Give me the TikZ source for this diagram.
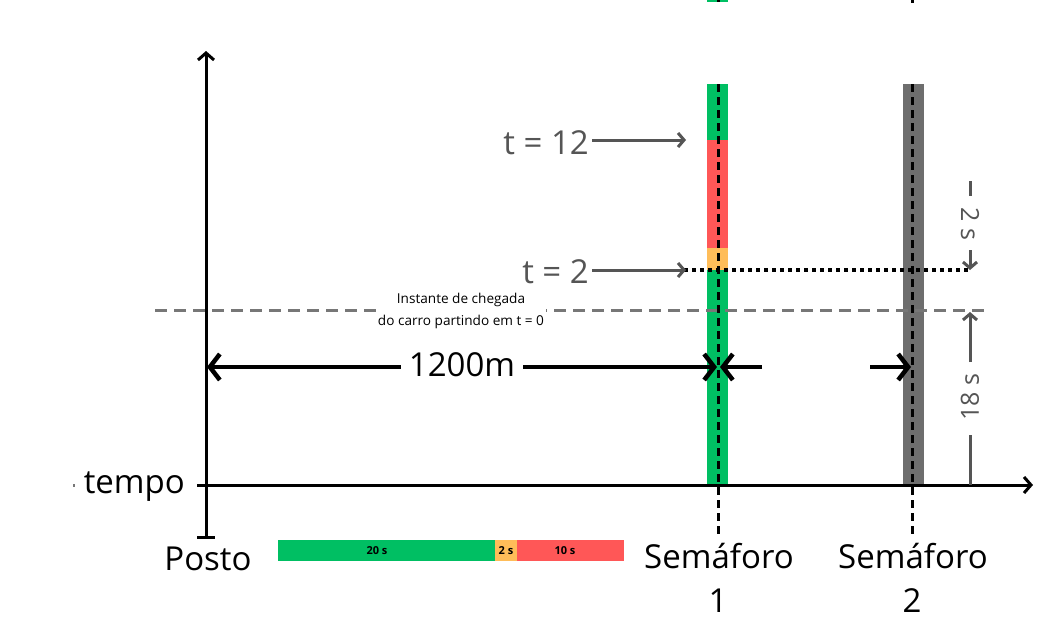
\documentclass[tikz,border=0pt]{standalone}
\usepackage{fontspec}
\setmainfont{Open Sans}
\usetikzlibrary{arrows.meta}
\definecolor{sgreen}{HTML}{00BF63}
\definecolor{sred}{HTML}{FF5757}
\definecolor{sorange}{HTML}{FFBD59}
\definecolor{sgray}{HTML}{6E6E6E}
\definecolor{dgray}{HTML}{555555}
\definecolor{lgray}{HTML}{777777}
\tikzset{
  big/.style={font=\fontsize{33}{36}\selectfont, inner sep=1pt},
  tlabel/.style={font=\fontsize{33}{36}\selectfont, text=dgray, inner sep=1pt},
  small/.style={font=\fontsize{13.6}{22}\selectfont, align=center, fill=white, inner sep=2pt},
  barlabel/.style={font=\fontsize{11}{12}\selectfont\bfseries, inner sep=0pt},
  dimlabel/.style={font=\fontsize{25}{28}\selectfont, text=dgray, inner sep=1pt},
  axis/.style={line width=3pt, -{Straight Barb[length=7pt,width=16pt,line width=3pt]}},
  dimarrow/.style={line width=4pt, -{Straight Barb[length=10pt,width=26pt,line width=4.5pt]}},
  grayarrow/.style={draw=dgray, line width=3pt, -{Straight Barb[length=6pt,width=14pt,line width=3pt]}},
  vdash/.style={draw=black, line width=3pt, dash pattern=on 8pt off 5pt},
  hdash/.style={draw=lgray, line width=3pt, dash pattern=on 12pt off 7pt},
  dotline/.style={draw=black, line width=3.5pt, dash pattern=on 3.5pt off 4.5pt},
}
\begin{document}
\begin{tikzpicture}[x=1pt,y=-1pt]
\useasboundingbox[fill=white] (0,0) rectangle (1050,632);

% top clipped remnants
\fill[sgreen] (707,0) rectangle (728,2);
\fill[black] (716.5,0) rectangle (719.5,2);
\fill[black] (910.5,0) rectangle (913.5,3);
\fill[lgray] (73,484) rectangle (75,487);

% semaphore 1 bar
\fill[sgreen] (707,84) rectangle (728,140);
\fill[sred] (707,140) rectangle (728,248);
\fill[sorange] (707,248) rectangle (728,270);
\fill[sgreen] (707,270) rectangle (728,485);
% semaphore 2 bar
\fill[sgray] (903,84) rectangle (924,485);

% coordinates
\coordinate (s1top) at (718,84);
\coordinate (s1bot) at (718,538);
\coordinate (s2top) at (912,84);
\coordinate (s2bot) at (912,538);

% arrival line
\coordinate (arrL) at (155,310);
\coordinate (arrR) at (988,310);
\draw[hdash] (arrL) -- (arrR);
\node[small] (instante) at (461,311) {Instante de chegada\\do carro partindo em t = 0};

% dotted line at t=2
\coordinate (dotL) at (684,270);
\coordinate (dotR) at (970,270);
\draw[dotline] (dotL) -- (dotR);

% dashed verticals
\draw[vdash] (s1top) -- (s1bot);
\draw[vdash] (s2top) -- (s2bot);

% axes
\coordinate (vbot) at (206,537);
\coordinate (vtop) at (206,51);
\coordinate (hleft) at (197,485);
\coordinate (hright) at (1033,485);
\draw[axis] (vbot) -- (vtop);
\draw[line width=3pt] (197,537) -- (215,537);
\draw[axis] (hleft) -- (hright);

% labels
\node[big, anchor=east] (tempo) at (186,487) {tempo};
\node[big] (posto) at (208,559) {Posto};
\node[big] (sem1) at (719,556) {Semáforo};
\node[big] (sem1n) at (718,601) {1};
\node[big] (sem2) at (913,556) {Semáforo};
\node[big] (sem2n) at (912,601) {2};

% t labels
\node[tlabel, anchor=east] (t12) at (590,143) {t = 12};
\coordinate (t12tip) at (686,140);
\draw[grayarrow] (t12.east) ++(2,-3) coordinate (t12s) -- (t12tip);
\node[tlabel, anchor=east] (t2) at (590,272) {t = 2};
\coordinate (t2tip) at (686,270);
\draw[grayarrow] (t2.east) ++(2,-2) coordinate (t2s) -- (t2tip);

% 1200m dimension
\coordinate (dimL) at (207,367);
\coordinate (dimR) at (717,367);
\node[big, fill=white, inner sep=8pt] (d1200) at (462,365) {1200m};
\draw[dimarrow] (d1200.west |- dimL) -- (dimL);
\draw[dimarrow] (d1200.east |- dimR) -- (dimR);
\coordinate (bS) at (762,367);
\coordinate (bT) at (720,367);
\draw[dimarrow] (bS) -- (bT);
\coordinate (cS) at (870,367);
\coordinate (cT) at (911,367);
\draw[dimarrow] (cS) -- (cT);

% right dimensions
\node[dimlabel, rotate=-90] (two) at (970,224) {2 s};
\draw[draw=dgray, line width=3pt] (970,181) -- (970,196);
\coordinate (twotip) at (970,270);
\draw[grayarrow] (970,250) -- (twotip);
\node[dimlabel, rotate=90] (eighteen) at (970,397) {18 s};
\coordinate (eitip) at (970,312);
\draw[grayarrow] (970,362) -- (eitip);
\draw[draw=dgray, line width=3pt] (970,435) -- (970,485);

% bottom bar
\fill[sgreen] (278,540) rectangle (495,561);
\fill[sorange] (495,540) rectangle (517,561);
\fill[sred] (517,540) rectangle (624,561);
\node[barlabel] (b20) at (377,550.5) {20 s};
\node[barlabel] (b2) at (506,550.5) {2 s};
\node[barlabel] (b10) at (565,550.5) {10 s};
\end{tikzpicture}
\end{document}
